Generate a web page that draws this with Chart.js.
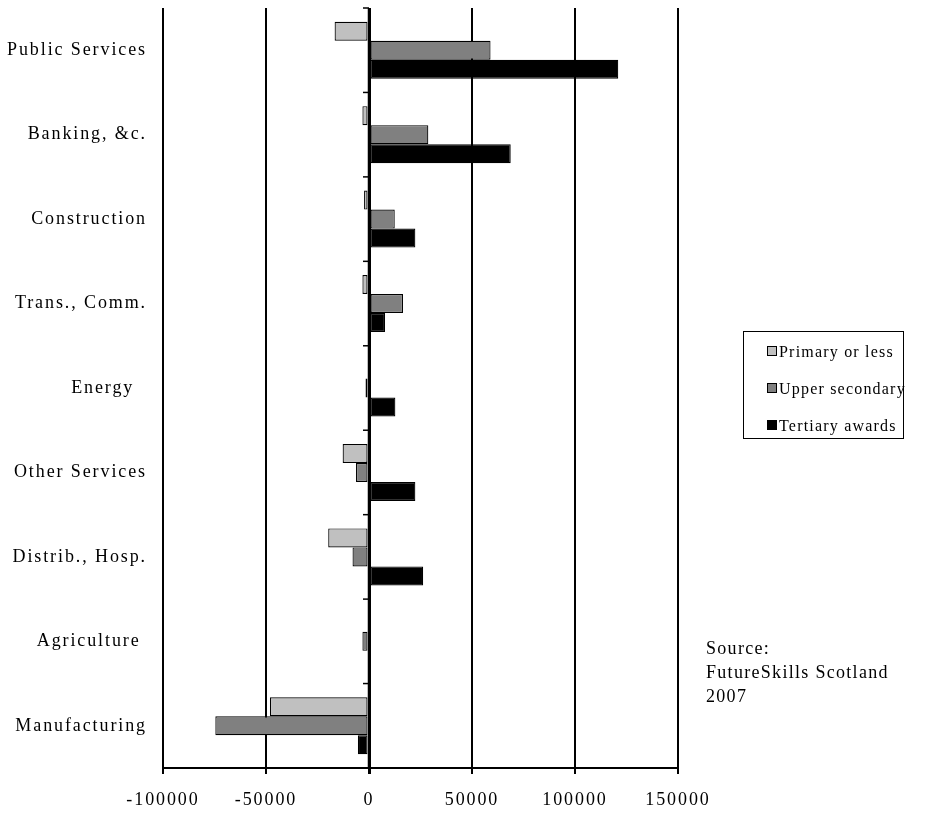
<!DOCTYPE html>
<html>
<head>
<meta charset="utf-8">
<title>Employment change by sector and qualification</title>
<script src="https://cdn.jsdelivr.net/npm/chart.js@4/dist/chart.umd.min.js"></script>
<style>
  body { margin: 0; background: #fff; }
  #wrap { position: relative; width: 935px; height: 815px; font-family: "Liberation Serif", "Times New Roman", serif; color: #000; }
  #c { position: absolute; left: 0; top: 0; }
  #legend { position: absolute; left: 743px; top: 331px; width: 161px; height: 108px; border: 1.5px solid #000; box-sizing: border-box; }
  .item { position: absolute; left: 23px; height: 20px; line-height: 20px; font-size: 16px; letter-spacing: 1.2px; white-space: nowrap; }
  .sw { display: inline-block; width: 8px; height: 8px; border: 1px solid #000; margin-right: 2px; vertical-align: 1px; }
  #source { position: absolute; left: 706px; top: 636px; font-size: 18px; line-height: 24px; letter-spacing: 1.3px; }
</style>
</head>
<body>
<div id="wrap">
  <canvas id="c" width="935" height="815"></canvas>
  <div id="legend"></div>
  <div id="source">Source:<br>FutureSkills Scotland<br>2007</div>
</div>
<script>
// Sectors, top to bottom
const sectors = ['Public Services', 'Banking, &c.', 'Construction', 'Trans., Comm.', 'Energy  ',
                 'Other Services', 'Distrib., Hosp.', 'Agriculture ', 'Manufacturing'];
const seriesNames = ['Primary or less', 'Upper secondary', 'Tertiary awards'];
const seriesColors = ['#c0c0c0', '#808080', '#000000'];

// Change in employment by highest qualification
const primaryOrLess  = [-16700, -3200, -2400, -3200, 0, -12800, -19800, 0, -48100];
const upperSecondary = [59000, 28800, 12500, 16500, -1700, -6300, -8000, -3200, -74600];
const tertiaryAwards = [121000, 68800, 22500, 7800, 12800, 22500, 26300, 0, -5400];

// Value axis ticks
const xTicks = [-100000, -50000, 0, 50000, 100000, 150000];

const seriesValues = [primaryOrLess, upperSecondary, tertiaryAwards];

const datasets = seriesNames.map((name, i) => ({
  label: name,
  data: seriesValues[i],
  backgroundColor: seriesColors[i],
  borderColor: '#000',
  borderWidth: 1.2,
  borderSkipped: false,
  categoryPercentage: 0.675,
  barPercentage: 1.0
}));

// Wider glyph spacing for all canvas text
const textSpacing = {
  id: 'textSpacing',
  beforeLayout(chart) { chart.ctx.letterSpacing = '1.9px'; },
  beforeDraw(chart) { chart.ctx.letterSpacing = '1.9px'; }
};

// Zero line on top of the bars, with short marks at the sector boundaries
const zeroAxis = {
  id: 'zeroAxis',
  afterDatasetsDraw(chart) {
    const { ctx, scales: { x, y }, chartArea } = chart;
    const x0 = x.getPixelForValue(0);
    ctx.save();
    ctx.strokeStyle = '#000';
    ctx.lineWidth = 2.5;
    ctx.beginPath();
    ctx.moveTo(x0, chartArea.top);
    ctx.lineTo(x0, chartArea.bottom);
    ctx.stroke();
    ctx.lineWidth = 1.5;
    for (let i = 0; i <= sectors.length; i++) {
      const py = y.getPixelForValue(i - 0.5);
      ctx.beginPath();
      ctx.moveTo(x0 - 6, py);
      ctx.lineTo(x0, py);
      ctx.stroke();
    }
    ctx.restore();
  }
};

const font = { family: '"Liberation Serif", "Times New Roman", serif', size: 18 };

new Chart(document.getElementById('c'), {
  type: 'bar',
  data: { labels: sectors, datasets },
  plugins: [textSpacing, zeroAxis],
  options: {
    indexAxis: 'y',
    responsive: false,
    animation: false,
    layout: { padding: { left: 0, top: 8, right: 257, bottom: 0 } },
    plugins: { legend: { display: false }, tooltip: { enabled: false } },
    scales: {
      x: {
        type: 'linear',
        min: xTicks[0],
        max: xTicks[xTicks.length - 1],
        afterBuildTicks(scale) { scale.ticks = xTicks.map(v => ({ value: v })); },
        afterFit(scale) {
          scale.height = 47;
          scale.paddingLeft = 0;
          scale.paddingRight = 0;
        },
        ticks: {
          color: '#000',
          font,
          padding: 15,
          maxRotation: 0,
          callback: v => String(v)
        },
        grid: {
          color: '#000',
          lineWidth: ctx => (ctx.tick && ctx.tick.value === 0 ? 3 : 2),
          drawTicks: true,
          tickLength: 6
        },
        border: { display: true, color: '#000', width: 2 }
      },
      y: {
        type: 'category',
        afterFit(scale) {
          scale.width = 163;
          scale.paddingTop = 0;
          scale.paddingBottom = 0;
        },
        ticks: { color: '#000', font, padding: 16 },
        grid: { display: false, drawTicks: false },
        border: { display: false }
      }
    }
  }
});

// Legend box built from the series definitions
const legend = document.getElementById('legend');
const rowTops = [10, 47, 84];
seriesNames.forEach((name, i) => {
  const row = document.createElement('div');
  row.className = 'item';
  row.style.top = rowTops[i] + 'px';
  const sw = document.createElement('span');
  sw.className = 'sw';
  sw.style.background = seriesColors[i];
  row.appendChild(sw);
  row.appendChild(document.createTextNode(name));
  legend.appendChild(row);
});
</script>
</body>
</html>
